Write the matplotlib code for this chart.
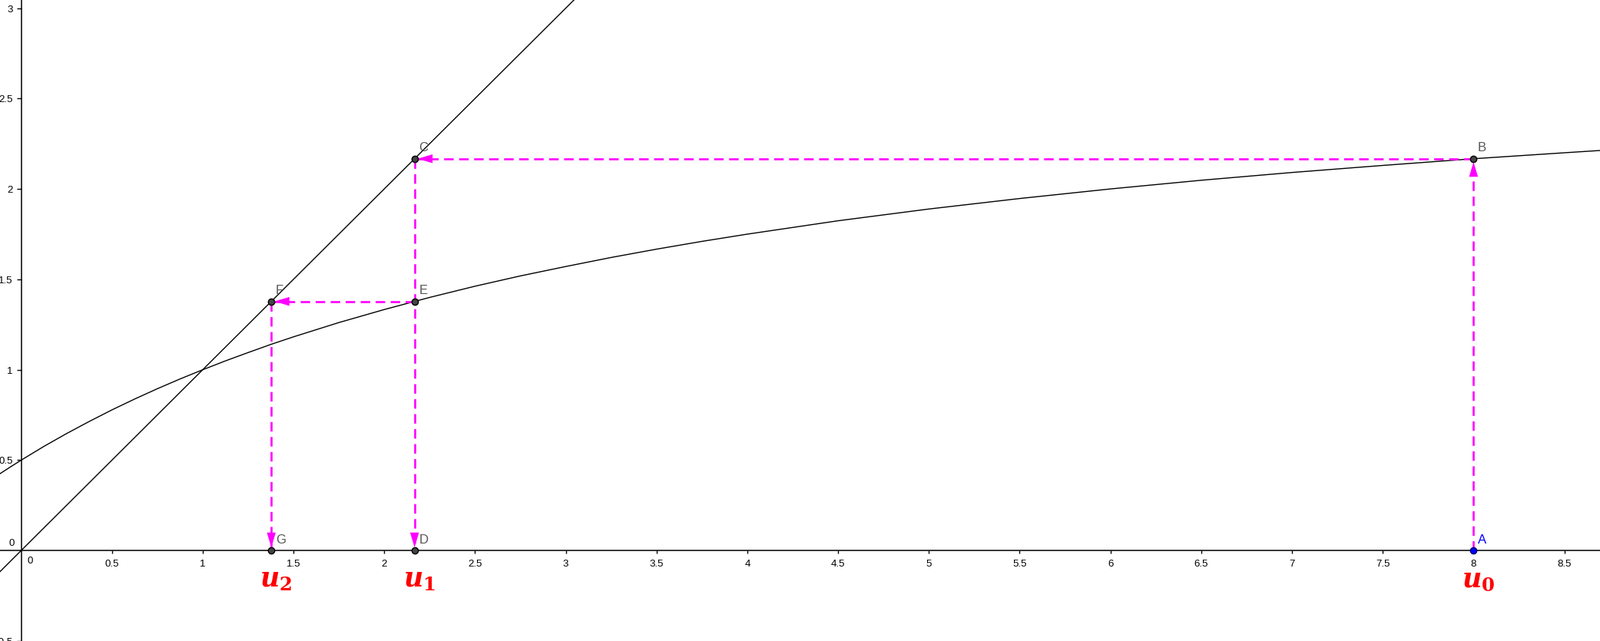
import matplotlib
matplotlib.use("Agg")
import matplotlib.pyplot as plt
from matplotlib.transforms import ScaledTranslation

# Termes de la suite
u = [8.0, 2.167, 1.378]
u_labels = [r"$u_0$", r"$u_1$", r"$u_2$"]

# Courbe lue point par point
curve_x = [-0.12, -0.06, 0, 0.125, 0.25, 0.375, 0.5, 0.625, 0.75, 0.875, 1,
           1.125, 1.25, 1.375, 1.5, 1.75, 2, 2.25, 2.5, 2.75, 3, 3.25, 3.5,
           3.75, 4, 4.5, 5, 5.5, 6, 6.5, 7, 7.5, 8, 8.5, 8.75]
curve_y = [0.423, 0.462, 0.5, 0.576, 0.647, 0.714, 0.778, 0.838, 0.895, 0.949,
           1.0, 1.049, 1.095, 1.140, 1.182, 1.261, 1.333, 1.4, 1.462, 1.519,
           1.571, 1.621, 1.667, 1.710, 1.75, 1.824, 1.889, 1.947, 2.0, 2.048,
           2.091, 2.130, 2.167, 2.2, 2.216]

# Droite y = x
diag_x = [-0.2, 3.2]
diag_y = [-0.2, 3.2]

xticks = [0.5, 1, 1.5, 2, 2.5, 3, 3.5, 4, 4.5, 5, 5.5, 6, 6.5, 7, 7.5, 8, 8.5]
xtick_labels = ["0.5", "1", "1.5", "2", "2.5", "3", "3.5", "4", "4.5", "5",
                "5.5", "6", "6.5", "7", "7.5", "8", "8.5"]
yticks = [-0.5, 0.5, 1, 1.5, 2, 2.5, 3]
ytick_labels = ["\u22120.5", "0.5", "1", "1.5", "2", "2.5", "3"]

plt.rcParams["font.family"] = ["Liberation Sans", "DejaVu Sans"]
plt.rcParams["mathtext.fontset"] = "custom"
plt.rcParams["mathtext.it"] = "DejaVu Serif:italic:bold"
plt.rcParams["mathtext.rm"] = "DejaVu Serif:bold"

W, H = 2083, 835
fig = plt.figure(figsize=((W + 0.5) / 100, (H + 0.5) / 100), dpi=100)
ax = fig.add_axes([0, 0, 1, 1])

# échelle : 236.3 px par unité, origine à (27.5, 720) px
scale = 236.3
ox, oy = 27.5, 720.0
ax.set_xlim(-ox / scale, (W - ox) / scale)
ax.set_ylim(-(H - oy) / scale, oy / scale)

# axes à la GeoGebra
for s in ["top", "right"]:
    ax.spines[s].set_visible(False)
ax.spines["left"].set_position(("data", 0))
ax.spines["bottom"].set_position(("data", 0))
for s in ["left", "bottom"]:
    ax.spines[s].set_linewidth(1.1)
ax.set_xticks(xticks)
ax.set_xticklabels(xtick_labels)
ax.set_yticks(yticks)
ax.set_yticklabels(ytick_labels)
ax.tick_params(axis="x", direction="out", length=3, width=1, pad=5, labelsize=9.5)
ax.tick_params(axis="y", direction="out", length=4.3, width=1, pad=3.5, labelsize=9.5)
ax.text(0, 0, "0", fontsize=9.5, ha="left", va="top",
        transform=ax.transData + ScaledTranslation(6 / 72, -5 / 72, fig.dpi_scale_trans))
ax.text(0, 0, "0", fontsize=9.5, ha="right", va="bottom",
        transform=ax.transData + ScaledTranslation(-6.5 / 72, 2.5 / 72, fig.dpi_scale_trans))

# courbes
ax.plot(diag_x, diag_y, color="black", lw=1.0, zorder=2)
ax.plot(curve_x, curve_y, color="black", lw=1.0, zorder=2)

# points de la construction
A = (u[0], 0)
B = (u[0], u[1])
C = (u[1], u[1])
D = (u[1], 0)
E = (u[1], u[2])
F = (u[2], u[2])
G = (u[2], 0)

magenta = "#ff00ff"
segments = [(A, B), (B, C), (C, D), (E, F), (F, G)]
for p, q in segments:
    ax.plot([p[0], q[0]], [p[1], q[1]], color=magenta, lw=1.9,
            dashes=(4.7, 2.7), zorder=3, dash_capstyle="butt")
    # pointe de flèche
    dx, dy = q[0] - p[0], q[1] - p[1]
    n = (dx ** 2 + dy ** 2) ** 0.5
    off = (-dx / n * 16, -dy / n * 16)
    ax.annotate("", xy=q, xytext=off, textcoords="offset points",
                arrowprops=dict(arrowstyle="-|>,head_length=0.64,head_width=0.19",
                                color=magenta, lw=0.5, shrinkA=0, shrinkB=3,
                                mutation_scale=20),
                zorder=4)

gray_pts = {"B": B, "C": C, "D": D, "E": E, "F": F, "G": G}
for name, p in gray_pts.items():
    ax.plot(*p, "o", ms=6, mfc="#444444", mec="black", mew=1, zorder=5)
    ax.annotate(name, xy=p, xytext=(4, 5), textcoords="offset points",
                fontsize=12, color="#555555", ha="left", va="bottom", zorder=5)
ax.plot(*A, "o", ms=6, mfc="#0000ff", mec="#000066", mew=1, zorder=5)
ax.annotate("A", xy=A, xytext=(4, 5), textcoords="offset points",
            fontsize=12, color="#0000ff", ha="left", va="bottom", zorder=5)

# étiquettes des termes
for val, lab in zip(u, u_labels):
    ax.text(val + 0.025, -0.16, lab, color="red", fontsize=25,
            ha="center", va="center")

fig.savefig("out.png", dpi=100)
